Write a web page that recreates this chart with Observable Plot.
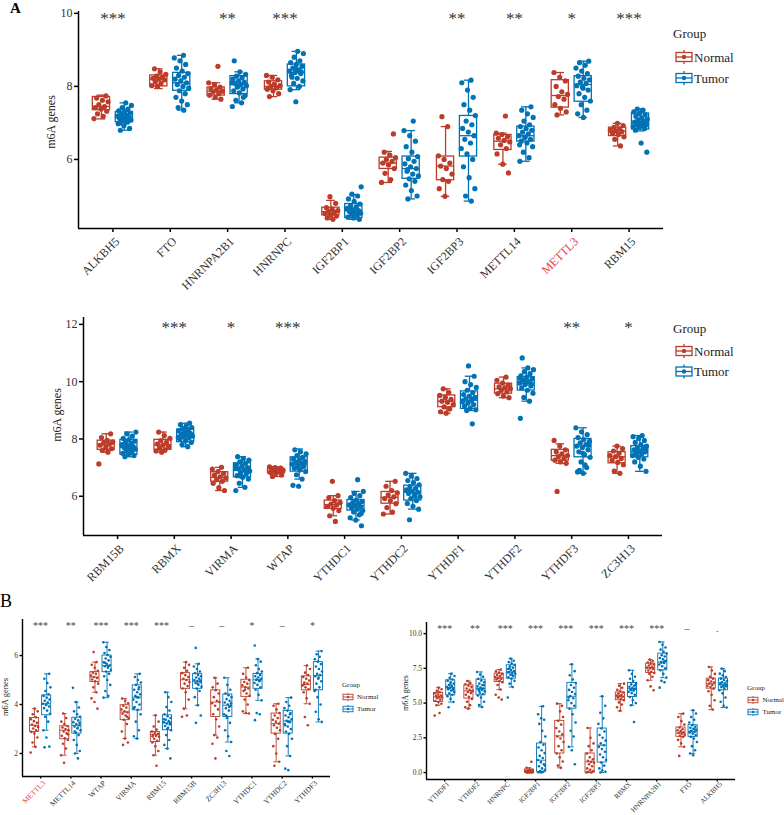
<!DOCTYPE html>
<html><head><meta charset="utf-8">
<script src="https://cdn.jsdelivr.net/npm/d3@7"></script>
<script src="https://cdn.jsdelivr.net/npm/@observablehq/plot@0.6"></script>
<style>
body{margin:0;background:#fff;}
#fig{position:relative;width:784px;height:815px;font-family:"Liberation Serif","Times New Roman",serif;overflow:hidden;background:#fff;}
.pn{position:absolute;}
.lab{position:absolute;white-space:nowrap;color:#333;line-height:1;}
.ylab{position:absolute;white-space:nowrap;color:#222;transform:translate(-50%,-50%) rotate(-90deg);}
</style></head><body><div id="fig"></div>
<script>
const RED = "#BC3C29", BLUE = "#0072B5";
const groups = ["Normal", "Tumor"];

// ---------- Panel A, top ----------
const genesA1 = ["ALKBH5","FTO","HNRNPA2B1","HNRNPC","IGF2BP1","IGF2BP2","IGF2BP3","METTL14","METTL3","RBM15"];
const signifA1 = ["***","","**","***","","","**","**","*","***"];
// box stats: [lower whisker, Q1, median, Q3, upper whisker]
const boxNormalA1 = [[7.11,7.35,7.45,7.71,7.76],[7.94,8.0,8.2,8.3,8.48],[7.65,7.75,7.87,7.97,8.1],[7.72,7.91,8.0,8.14,8.3],[4.36,4.47,4.57,4.68,4.88],[5.37,5.74,5.9,6.05,6.22],[4.99,5.43,5.82,6.08,6.9],[5.87,6.26,6.5,6.67,6.72],[7.22,7.42,7.75,8.17,8.38],[6.37,6.64,6.78,6.87,6.99]];
const boxTumorA1 = [[6.8,7.02,7.17,7.3,7.55],[7.35,7.88,8.1,8.37,8.85],[7.55,7.79,8.05,8.28,8.4],[7.91,8.0,8.38,8.6,8.96],[4.36,4.4,4.6,4.78,5.04],[4.92,5.47,5.75,6.08,6.79],[4.86,6.08,6.65,7.19,8.17],[5.95,6.49,6.65,6.9,7.44],[7.15,7.58,8.05,8.28,8.69],[6.78,6.82,7.02,7.26,7.38]];
const pointsNormalA1 = [
 [7.12,7.18,7.25,7.32,7.38,7.42,7.45,7.5,7.58,7.62,7.68,7.74],
 [8.0,8.02,8.08,8.12,8.18,8.2,8.22,8.25,8.28,8.33,8.4,8.48],
 [7.65,7.7,7.76,7.8,7.85,7.87,7.9,7.94,7.98,8.05,8.1,8.55],
 [7.72,7.8,7.88,7.92,7.96,8.0,8.02,8.06,8.12,8.18,8.25,8.3],
 [4.36,4.4,4.45,4.48,4.52,4.55,4.58,4.6,4.64,4.68,4.8,4.98],
 [5.37,5.45,5.62,5.75,5.85,5.9,5.95,6.0,6.05,6.12,6.2,6.7],
 [4.99,5.2,5.4,5.45,5.6,5.75,5.82,5.9,6.0,6.1,6.9,7.17],
 [5.63,5.87,6.15,6.3,6.4,6.48,6.52,6.58,6.62,6.68,6.72,7.19],
 [7.22,7.3,7.4,7.5,7.65,7.72,7.78,7.85,8.0,8.15,8.25,8.38],
 [6.37,6.55,6.62,6.68,6.72,6.76,6.78,6.8,6.84,6.88,6.93,6.99]];
const pointsTumorA1 = [
 [6.8,6.85,6.92,6.98,7.02,7.05,7.08,7.1,7.12,7.15,7.17,7.19,7.21,7.24,7.27,7.3,7.33,7.38,7.42,7.48,7.55,7.0],
 [7.35,7.42,7.5,7.6,7.7,7.8,7.88,7.95,8.0,8.05,8.1,8.15,8.2,8.25,8.3,8.35,8.42,8.5,8.6,8.7,8.78,8.85],
 [7.45,7.55,7.62,7.75,7.82,7.88,7.93,7.98,8.02,8.05,8.08,8.12,8.15,8.2,8.24,8.28,8.33,8.4,8.7,7.7,8.0,8.1],
 [7.58,7.91,8.0,8.08,8.15,8.22,8.3,8.35,8.38,8.42,8.45,8.5,8.55,8.6,8.65,8.7,8.8,8.9,8.96,8.25,8.4,8.48],
 [4.36,4.4,4.42,4.46,4.5,4.53,4.56,4.58,4.6,4.63,4.66,4.7,4.74,4.78,4.85,4.92,5.0,5.05,5.25,4.48,4.62,4.55],
 [4.92,5.0,5.15,5.3,5.4,5.47,5.55,5.6,5.68,5.75,5.8,5.88,5.95,6.02,6.08,6.2,6.35,6.5,6.65,6.79,7.05,5.72],
 [4.86,5.0,5.2,5.5,5.8,6.0,6.15,6.3,6.45,6.55,6.65,6.75,6.85,6.95,7.05,7.2,7.35,7.5,7.7,7.9,8.1,8.17],
 [5.95,6.05,6.2,6.35,6.45,6.5,6.55,6.6,6.65,6.7,6.75,6.8,6.85,6.9,6.95,7.05,7.15,7.25,7.35,7.44,6.62,6.4],
 [7.15,7.25,7.35,7.5,7.6,7.7,7.8,7.9,7.98,8.02,8.08,8.12,8.18,8.22,8.28,8.35,8.42,8.5,8.58,8.65,8.69,7.95],
 [6.2,6.45,6.8,6.85,6.88,6.9,6.93,6.96,6.98,7.0,7.02,7.05,7.08,7.1,7.14,7.18,7.22,7.26,7.3,7.35,7.38,6.95]];

// ---------- Panel A, bottom ----------
const genesA2 = ["RBM15B","RBMX","VIRMA","WTAP","YTHDC1","YTHDC2","YTHDF1","YTHDF2","YTHDF3","ZC3H13"];
const signifA2 = ["","***","*","***","","","","","**","*"];
const boxNormalA2 = [[7.54,7.62,7.82,7.94,8.18],[7.54,7.62,7.8,7.97,8.24],[6.2,6.51,6.66,6.84,7.01],[6.69,6.8,6.88,6.95,7.03],[5.32,5.56,5.71,5.85,6.02],[5.38,5.74,5.96,6.15,6.52],[8.9,9.11,9.32,9.52,9.75],[9.44,9.58,9.75,9.93,10.16],[7.15,7.24,7.42,7.62,7.83],[6.8,7.15,7.38,7.54,7.75]];
const boxTumorA2 = [[7.38,7.45,7.71,7.97,8.24],[7.73,7.89,8.12,8.33,8.55],[6.31,6.66,6.9,7.15,7.38],[6.6,6.86,7.13,7.36,7.65],[5.17,5.5,5.67,5.87,6.17],[5.55,5.85,6.14,6.37,6.8],[8.99,9.05,9.35,9.66,10.19],[9.32,9.69,9.93,10.16,10.48],[6.8,7.36,7.75,8.0,8.39],[6.87,7.36,7.55,7.75,8.12]];
const pointsNormalA2 = [
 [7.13,7.54,7.6,7.66,7.72,7.78,7.82,7.86,7.9,7.95,8.05,8.18],
 [7.54,7.58,7.62,7.68,7.74,7.78,7.82,7.88,7.94,8.02,8.12,8.24],
 [6.2,6.3,6.45,6.52,6.58,6.64,6.68,6.74,6.8,6.86,6.95,7.01],
 [6.69,6.74,6.8,6.83,6.86,6.88,6.9,6.92,6.95,6.98,7.0,7.03],
 [5.12,5.32,5.5,5.58,5.64,5.7,5.73,5.78,5.85,5.95,6.02,6.52],
 [5.38,5.45,5.6,5.74,5.85,5.92,5.98,6.05,6.12,6.2,6.35,6.52],
 [8.9,8.95,9.05,9.12,9.2,9.28,9.32,9.38,9.45,9.52,9.62,9.75],
 [9.44,9.5,9.58,9.64,9.7,9.75,9.78,9.82,9.88,9.95,10.05,10.16],
 [6.17,7.15,7.2,7.26,7.32,7.38,7.42,7.48,7.55,7.62,7.75,7.95],
 [6.8,6.88,7.1,7.18,7.25,7.32,7.38,7.42,7.5,7.58,7.66,7.75]];
const pointsTumorA2 = [
 [7.38,7.42,7.46,7.5,7.55,7.6,7.64,7.68,7.7,7.73,7.76,7.8,7.84,7.88,7.92,7.97,8.02,8.1,8.18,8.24,7.62,7.75],
 [7.73,7.8,7.88,7.94,8.0,8.04,8.08,8.1,8.13,8.16,8.2,8.24,8.28,8.32,8.36,8.4,8.45,8.5,8.55,8.12,8.06,8.22],
 [6.2,6.31,6.45,6.6,6.66,6.72,6.78,6.84,6.88,6.92,6.96,7.0,7.05,7.1,7.15,7.2,7.26,7.32,7.38,6.9,6.7,6.98],
 [6.35,6.38,6.6,6.75,6.86,6.92,6.98,7.03,7.08,7.12,7.15,7.18,7.22,7.26,7.3,7.36,7.42,7.48,7.55,7.62,7.1,7.0],
 [4.97,5.17,5.25,5.35,5.45,5.5,5.55,5.6,5.64,5.67,5.7,5.74,5.78,5.82,5.87,5.95,6.02,6.1,6.17,6.58,5.62,5.4],
 [5.18,5.55,5.65,5.75,5.85,5.92,5.98,6.04,6.1,6.14,6.18,6.22,6.28,6.34,6.4,6.48,6.55,6.62,6.7,6.8,6.0,6.2],
 [8.53,8.99,9.02,9.08,9.15,9.2,9.25,9.3,9.35,9.4,9.45,9.5,9.55,9.62,9.7,9.8,9.9,10.0,10.19,10.55,9.33,9.38],
 [8.72,9.32,9.45,9.6,9.7,9.78,9.85,9.9,9.95,10.0,10.05,10.1,10.15,10.2,10.28,10.35,10.42,10.48,10.83,9.92,9.98,10.12],
 [6.8,6.85,7.0,7.2,7.36,7.45,7.55,7.62,7.7,7.75,7.8,7.86,7.92,7.98,8.05,8.15,8.25,8.39,7.1,6.9,7.78,7.5],
 [6.87,7.05,7.2,7.3,7.36,7.42,7.48,7.52,7.55,7.58,7.62,7.66,7.7,7.75,7.8,7.88,7.95,8.02,8.08,8.12,7.45,7.6]];

// ---------- Panel B, left ----------
const genesB1 = ["METTL3","METTL14","WTAP","VIRMA","RBM15","RBM15B","ZC3H13","YTHDC1","YTHDC2","YTHDF3"];
const signifB1 = ["***","**","***","***","***","–","–","*","–","*"];
const boxNormalB1 = [[2.27,2.88,3.15,3.45,3.83],[1.93,2.58,2.95,3.11,3.63],[4.5,4.92,5.12,5.32,5.73],[2.61,3.36,3.69,3.97,4.24],[1.93,2.47,2.77,2.88,3.56],[3.83,4.64,5.01,5.28,5.73],[2.75,3.49,4.1,4.58,5.09],[3.63,4.31,4.71,5.01,5.5],[1.66,2.81,3.22,3.63,4.03],[4.03,4.58,4.82,5.15,5.59]];
const boxTumorB1 = [[2.95,3.56,4.03,4.37,5.25],[2.0,2.81,3.15,3.46,4.1],[4.28,5.32,5.59,6.0,6.54],[2.61,3.76,4.3,4.78,5.25],[2.2,2.95,3.25,3.56,4.5],[3.97,4.64,4.95,5.25,5.66],[2.47,3.49,3.97,4.41,5.09],[4.17,4.64,5.01,5.25,5.86],[1.9,2.81,3.33,3.74,4.28],[3.29,4.58,5.19,5.73,6.18]];
const pointsNormalB1 = [
 [2.04,2.27,2.45,2.65,2.82,2.88,2.95,3.02,3.08,3.12,3.18,3.25,3.32,3.4,3.48,3.6,3.72,3.83],
 [1.62,1.93,2.2,2.4,2.55,2.62,2.72,2.82,2.9,2.95,3.0,3.06,3.12,3.2,3.3,3.45,3.63,2.78],
 [3.83,4.1,4.25,4.5,4.7,4.85,4.95,5.02,5.08,5.12,5.18,5.25,5.3,5.38,5.5,5.62,5.73,6.14],
 [2.35,2.45,2.61,2.9,3.2,3.38,3.45,3.55,3.62,3.68,3.72,3.8,3.88,3.95,4.05,4.15,4.24,3.5],
 [1.5,1.93,2.1,2.3,2.45,2.52,2.6,2.68,2.72,2.76,2.8,2.85,2.9,2.98,3.1,3.3,3.56,2.7],
 [3.5,3.55,3.83,4.2,4.5,4.65,4.75,4.85,4.92,5.0,5.05,5.12,5.2,5.28,5.38,5.5,5.62,5.73],
 [1.8,2.4,2.65,2.75,3.1,3.4,3.6,3.8,3.95,4.05,4.15,4.3,4.45,4.58,4.7,4.85,5.09,4.1],
 [3.63,3.65,3.72,4.0,4.2,4.35,4.45,4.55,4.65,4.7,4.78,4.85,4.92,5.0,5.1,5.25,5.5,4.6],
 [1.5,1.66,2.0,2.3,2.6,2.8,2.95,3.05,3.15,3.22,3.3,3.38,3.45,3.55,3.65,3.8,3.95,4.03],
 [3.15,3.49,4.03,4.25,4.5,4.62,4.7,4.78,4.85,4.9,4.98,5.05,5.12,5.2,5.3,5.45,5.59,4.82]];
const pointsTumorB1 = [
 [2.25,2.28,2.65,2.95,3.3,3.5,3.62,3.75,3.85,3.92,3.98,4.03,4.08,4.15,4.2,4.28,4.35,4.42,4.55,4.7,4.88,5.05,5.25,4.0],
 [1.8,2.0,2.1,2.35,2.55,2.75,2.85,2.95,3.02,3.1,3.15,3.2,3.28,3.35,3.42,3.5,3.6,3.72,3.88,4.1,4.68,3.05,2.9,3.25],
 [4.28,4.35,4.55,4.8,5.0,5.15,5.25,5.35,5.42,5.5,5.56,5.6,5.65,5.72,5.8,5.88,5.95,6.02,6.1,6.22,6.35,6.54,5.55,5.7],
 [2.61,2.7,2.95,3.3,3.6,3.78,3.9,4.0,4.1,4.2,4.28,4.35,4.42,4.5,4.6,4.7,4.8,4.9,5.0,5.12,5.25,4.3,3.85,4.62],
 [1.8,2.2,2.35,2.55,2.75,2.95,3.05,3.12,3.18,3.22,3.28,3.32,3.38,3.45,3.52,3.6,3.75,3.9,4.1,4.3,4.5,3.25,3.0,3.4],
 [3.25,3.55,3.97,4.3,4.55,4.65,4.72,4.8,4.88,4.92,4.96,5.0,5.05,5.1,5.15,5.2,5.28,5.35,5.45,5.55,5.66,6.31,4.98,4.85],
 [1.9,2.1,2.47,2.7,2.95,3.25,3.45,3.6,3.75,3.85,3.95,4.0,4.08,4.15,4.22,4.3,4.38,4.45,4.6,4.8,5.09,3.9,3.55,4.05],
 [3.36,3.6,3.65,4.17,4.4,4.6,4.7,4.8,4.88,4.95,5.0,5.05,5.1,5.15,5.2,5.28,5.35,5.45,5.6,5.75,5.86,6.41,4.98,5.02],
 [1.32,1.38,1.9,2.3,2.6,2.8,2.9,3.0,3.1,3.2,3.28,3.33,3.4,3.48,3.55,3.65,3.75,3.85,3.95,4.1,4.28,3.3,3.15,3.6],
 [3.29,3.4,3.7,4.0,4.3,4.55,4.7,4.85,4.95,5.05,5.15,5.2,5.25,5.35,5.45,5.55,5.65,5.75,5.85,5.95,6.05,6.18,5.1,4.6]];

// ---------- Panel B, right ----------
const genesB2 = ["YTHDF1","YTHDF2","HNRNPC","IGF2BP1","IGF2BP2","IGF2BP3","RBMX","HNRNPA2B1","FTO","ALKBH5"];
const signifB2 = ["***","**","***","***","***","***","***","***","–","."];
const boxNormalB2 = [[4.84,5.08,5.44,5.73,6.11],[4.6,5.32,5.88,6.28,6.59],[5.97,6.52,6.81,7.12,7.41],[0,0,0.05,0.22,0.35],[0.34,1.37,2.64,3.72,4.96],[0,0,0.77,1.37,3.21],[4.44,5.2,5.49,5.76,6.4],[6.64,7.17,7.55,7.84,8.13],[1.85,2.57,2.85,3.24,4.24],[4.53,6.04,6.4,6.76,7.6]];
const boxTumorB2 = [[5.08,5.56,6.11,6.64,7.12],[4.72,5.56,6.04,6.69,7.24],[6.16,6.76,7.24,7.72,8.2],[0,0.05,0.89,2.09,4.77],[1.85,4.6,5.49,6.45,7.79],[0,0.72,1.97,3.17,5.49],[4.84,5.44,6.04,6.45,7.36],[6.83,7.36,7.96,8.56,9.4],[1.37,2.57,2.93,3.41,4.48],[4.68,5.92,6.35,6.76,7.48]];
const pointsNormalB2 = [
 [4.1,4.29,4.84,4.95,5.08,5.15,5.25,5.35,5.4,5.45,5.5,5.55,5.62,5.7,5.78,5.88,6.0,6.11],
 [4.6,4.7,4.85,5.1,5.3,5.45,5.6,5.72,5.8,5.88,5.95,6.05,6.15,6.25,6.35,6.45,6.59,5.85],
 [5.25,5.4,5.6,5.97,6.3,6.5,6.6,6.7,6.76,6.82,6.88,6.95,7.02,7.1,7.18,7.28,7.41,6.8],
 [0,0,0.01,0.02,0.02,0.03,0.04,0.05,0.05,0.06,0.08,0.1,0.12,0.15,0.18,0.22,0.35,0.77],
 [0.34,0.5,0.8,1.1,1.37,1.6,1.9,2.2,2.45,2.6,2.75,2.95,3.2,3.45,3.72,4.0,4.4,4.96,4.8],
 [0,0,0.05,0.1,0.2,0.3,0.45,0.6,0.7,0.77,0.85,0.95,1.1,1.37,1.6,1.9,2.1,2.5,3.21],
 [4.44,4.7,4.9,5.05,5.2,5.3,5.38,5.45,5.5,5.55,5.6,5.68,5.76,5.85,5.95,6.1,6.25,6.4],
 [5.92,6.2,6.64,6.9,7.1,7.17,7.25,7.35,7.45,7.5,7.55,7.62,7.7,7.78,7.84,7.92,8.02,8.13],
 [1.2,1.85,2.1,2.35,2.57,2.65,2.72,2.8,2.85,2.9,2.98,3.05,3.12,3.24,3.45,3.7,4.0,4.24],
 [4.53,4.8,5.2,5.6,5.85,6.04,6.15,6.25,6.3,6.4,6.48,6.55,6.65,6.76,6.9,7.1,7.35,7.6]];
const pointsTumorB2 = [
 [4.7,5.08,5.3,5.5,5.6,5.7,5.8,5.9,6.0,6.05,6.1,6.15,6.22,6.3,6.4,6.5,6.6,6.7,6.82,6.95,7.12,6.08,5.95,6.35],
 [4.72,4.85,5.1,5.4,5.55,5.65,5.75,5.85,5.95,6.0,6.05,6.12,6.2,6.3,6.4,6.5,6.62,6.75,6.9,7.05,7.24,6.02,5.9,6.28],
 [5.4,6.16,6.4,6.6,6.75,6.85,6.95,7.05,7.12,7.18,7.24,7.3,7.38,7.45,7.55,7.65,7.75,7.85,7.95,8.05,8.2,7.2,7.0,7.5],
 [0,0.02,0.05,0.1,0.2,0.3,0.45,0.6,0.75,0.9,1.05,1.2,1.4,1.6,1.8,2.0,2.2,2.6,3.0,3.5,3.8,3.9,4.2,4.77,0.08,0.5],
 [0.6,1.6,1.85,2.6,3.0,3.6,4.2,4.6,4.8,5.0,5.2,5.35,5.5,5.65,5.8,5.95,6.1,6.3,6.45,6.7,7.0,7.3,7.79,5.4],
 [0,0.05,0.15,0.3,0.5,0.72,0.9,1.1,1.3,1.5,1.7,1.85,1.97,2.1,2.3,2.5,2.7,2.95,3.17,3.5,3.9,4.3,4.8,5.49],
 [3.64,4.84,5.0,5.2,5.44,5.6,5.72,5.82,5.9,5.98,6.04,6.1,6.18,6.25,6.35,6.45,6.6,6.75,6.9,7.1,7.36,6.0,5.95,6.3],
 [6.11,6.5,6.6,6.83,7.1,7.36,7.5,7.65,7.78,7.88,7.96,8.05,8.15,8.25,8.35,8.45,8.56,8.7,8.85,9.0,9.2,9.4,8.0,7.9],
 [1.25,1.37,1.6,1.9,2.2,2.45,2.57,2.7,2.8,2.88,2.93,3.0,3.08,3.15,3.22,3.3,3.41,3.6,3.8,4.0,4.25,4.48,2.95,3.1],
 [4.68,4.8,5.1,5.4,5.7,5.92,6.05,6.15,6.22,6.28,6.35,6.42,6.5,6.58,6.66,6.76,6.88,7.0,7.12,7.3,7.48,6.3,6.2,6.45]];

const yTicksA1 = [6, 8, 10], yTicksA2 = [6, 8, 10, 12], yTicksB1 = [2, 4, 6], yTicksB2 = [0, 2.5, 5, 7.5, 10];
const highlight = "METTL3";

function panel(cfg) {
  const n = cfg.genes.length;
  const boxes = [], pts = [];
  cfg.genes.forEach((g, i) => {
    groups.forEach((grp, gi) => {
      const off = gi === 0 ? -0.2 : 0.2;
      const b = (gi === 0 ? cfg.boxN : cfg.boxT)[i];
      boxes.push({grp, x: i + off, lo: b[0], q1: b[1], med: b[2], q3: b[3], hi: b[4]});
      const vals = (gi === 0 ? cfg.ptsN : cfg.ptsT)[i];
      vals.forEach((v, k) => {
        const u = ((k * 0.6180339 + i * 0.41 + gi * 0.23) % 1) - 0.5;
        pts.push({grp, x: i + off + u * 2 * cfg.jit, y: v});
      });
    });
  });
  const HW = 0.15, CAP = 0.075, sw = cfg.sw;
  const lfs = cfg.lfs || cfg.fs;
  const svg = Plot.plot({
    width: cfg.width, height: cfg.height,
    marginLeft: cfg.ml, marginRight: cfg.mr, marginTop: cfg.mt, marginBottom: cfg.mb,
    x: {domain: [-0.6, n - 0.4], label: null, axis: null},
    y: {domain: cfg.yDomain, label: null, axis: null},
    color: {domain: groups, range: [RED, BLUE]},
    style: {fontFamily: "'Liberation Serif', serif", fontSize: cfg.fs + "px", color: "#000", background: "transparent", overflow: "visible"},
    marks: [
      Plot.ruleX(boxes, {x: "x", y1: "lo", y2: "q1", stroke: "grp", strokeWidth: sw}),
      Plot.ruleX(boxes, {x: "x", y1: "q3", y2: "hi", stroke: "grp", strokeWidth: sw}),
      Plot.ruleY(boxes, {y: "lo", x1: d => d.x - CAP, x2: d => d.x + CAP, stroke: "grp", strokeWidth: sw}),
      Plot.ruleY(boxes, {y: "hi", x1: d => d.x - CAP, x2: d => d.x + CAP, stroke: "grp", strokeWidth: sw}),
      Plot.rect(boxes, {x1: d => d.x - HW, x2: d => d.x + HW, y1: "q1", y2: "q3", fill: "white", stroke: "grp", strokeWidth: sw}),
      Plot.ruleY(boxes, {y: "med", x1: d => d.x - HW, x2: d => d.x + HW, stroke: "grp", strokeWidth: sw}),
      Plot.dot(pts, {x: "x", y: "y", r: cfg.r, fill: "grp", stroke: null}),
      Plot.text(cfg.sig, {x: (d, i) => i, y: () => cfg.starY, text: d => d, fontSize: cfg.starFs, fill: cfg.starFill, dy: cfg.starDy}),
      Plot.text(cfg.genes, {x: (d, i) => i, filter: d => !(cfg.hl && d === highlight), frameAnchor: "bottom", text: d => d, rotate: -45, textAnchor: "end", lineAnchor: "middle", dx: cfg.ldx, dy: cfg.ldy, fill: "#333", fontSize: lfs}),
      Plot.text(cfg.genes, {x: (d, i) => i, filter: d => cfg.hl && d === highlight, frameAnchor: "bottom", text: d => d, rotate: -45, textAnchor: "end", lineAnchor: "middle", dx: cfg.ldx, dy: cfg.ldy, fill: "#E0453A", fontSize: lfs}),
      Plot.axisX(d3.range(n), {tickSize: cfg.ts, tickFormat: () => "", strokeWidth: cfg.aw, label: null}),
      Plot.axisY(cfg.yTicks, {tickSize: cfg.ts, tickPadding: cfg.tp, tickFormat: cfg.yFmt, fill: "#333", strokeWidth: cfg.aw, label: null}),
      Plot.ruleX([-0.6], {strokeWidth: cfg.aw, stroke: "#000"}),
      Plot.ruleY([cfg.yDomain[0]], {strokeWidth: cfg.aw, stroke: "#000"})
    ]
  });
  const div = document.createElement("div");
  div.className = "pn";
  div.style.left = cfg.left + "px";
  div.style.top = cfg.top + "px";
  div.appendChild(svg);
  document.getElementById("fig").appendChild(div);
}

const fmtInt = d3.format("d"), fmt1 = d3.format(".1f");

panel({genes: genesA1, sig: signifA1, boxN: boxNormalA1, boxT: boxTumorA1, ptsN: pointsNormalA1, ptsT: pointsTumorA1,
  left: 0, top: 0, width: 784, height: 280, ml: 78, mr: 121, mt: 11, mb: 52, yDomain: [4.11, 10.05], yTicks: yTicksA1, yFmt: fmtInt,
  fs: 12, starFs: 17, starY: 10, starDy: 5.5, starFill: "#333", r: 2.6, sw: 1.3, jit: 0.13, ts: 4, tp: 2, aw: 1.5, ldx: 4.5, ldy: 11, hl: true});
panel({genes: genesA2, sig: signifA2, boxN: boxNormalA2, boxT: boxTumorA2, ptsN: pointsNormalA2, ptsT: pointsTumorA2,
  left: 0, top: 280, width: 784, height: 310, ml: 83, mr: 122, mt: 37, mb: 55, yDomain: [4.63, 12.24], yTicks: yTicksA2, yFmt: fmtInt,
  fs: 12, starFs: 17, starY: 12, starDy: 3, starFill: "#333", r: 2.6, sw: 1.3, jit: 0.13, ts: 4, tp: 2, aw: 1.5, ldx: 4.5, ldy: 11, hl: false});
panel({genes: genesB1, sig: signifB1, boxN: boxNormalB1, boxT: boxTumorB1, ptsN: pointsNormalB1, ptsT: pointsTumorB1,
  left: 0, top: 590, width: 390, height: 225, ml: 22, mr: 60, mt: 29, mb: 39, yDomain: [1.06, 7.47], yTicks: yTicksB1, yFmt: fmtInt,
  fs: 7.5, starFs: 10, starY: 7.2, starDy: 0, starFill: "#444", r: 1.3, sw: 0.9, jit: 0.13, ts: 2.5, tp: 2, aw: 1.4, ldx: 3.5, ldy: 5.5, hl: true});
panel({genes: genesB2, sig: signifB2, boxN: boxNormalB2, boxT: boxTumorB2, ptsN: pointsNormalB2, ptsT: pointsTumorB2,
  left: 390, top: 590, width: 394, height: 225, ml: 36, mr: 49, mt: 32, mb: 36, yDomain: [-0.5, 10.8], yTicks: yTicksB2, yFmt: fmt1,
  fs: 7.5, lfs: 7, starFs: 10, starY: 10.4, starDy: 1.2, starFill: "#444", r: 1.3, sw: 0.9, jit: 0.13, ts: 2.5, tp: 2, aw: 1.4, ldx: 3.5, ldy: 3.5, hl: false});

// axis titles and panel letters
const fig = document.getElementById("fig");
function addText(cls, txt, x, y, fs, extra) {
  const d = document.createElement("div");
  d.className = cls; d.textContent = txt;
  d.style.left = x + "px"; d.style.top = y + "px"; d.style.fontSize = fs + "px";
  if (extra) Object.assign(d.style, extra);
  fig.appendChild(d);
}
addText("ylab", "m6A genes", 51, 122, 12);
addText("ylab", "m6A genes", 57, 415, 12);
addText("ylab", "m6A genes", 5, 697, 8.5);
addText("ylab", "m6A genes", 405, 693, 8);
addText("lab", "A", 10, 1, 15, {fontWeight: "bold", color: "#000"});
addText("lab", "B", 0, 592, 18, {color: "#000"});

// legends
const lsvg = d3.select(fig).append("svg").attr("width", 784).attr("height", 815)
  .style("position", "absolute").style("left", 0).style("top", 0).style("pointer-events", "none")
  .style("font-family", "'Liberation Serif', serif");
function legend(o) {
  lsvg.append("text").attr("x", o.x).attr("y", o.titleY).attr("font-size", o.fs).attr("fill", "#222").text("Group");
  groups.forEach((g, i) => {
    const c = i === 0 ? RED : BLUE, cy = o.rows[i], cx = o.kx + o.kw / 2;
    const gg = lsvg.append("g").attr("stroke", c).attr("stroke-width", o.sw).attr("fill", "none");
    gg.append("line").attr("x1", cx).attr("x2", cx).attr("y1", cy - o.wh).attr("y2", cy + o.wh);
    gg.append("rect").attr("x", o.kx).attr("y", cy - o.bh / 2).attr("width", o.kw).attr("height", o.bh).attr("fill", "white");
    gg.append("line").attr("x1", o.kx).attr("x2", o.kx + o.kw).attr("y1", cy).attr("y2", cy);
    lsvg.append("circle").attr("cx", cx).attr("cy", cy).attr("r", o.r).attr("fill", c);
    lsvg.append("text").attr("x", o.tx).attr("y", cy).attr("dy", "0.35em").attr("font-size", o.fs).attr("fill", "#222").text(g);
  });
}
legend({x: 673, titleY: 38, rows: [57, 78], kx: 676, kw: 16, bh: 9, wh: 7, sw: 1.3, r: 2.2, tx: 694, fs: 13});
legend({x: 673, titleY: 333, rows: [351, 371.5], kx: 676, kw: 16, bh: 9, wh: 7, sw: 1.3, r: 2.2, tx: 694, fs: 13});
legend({x: 342, titleY: 686.5, rows: [697, 709], kx: 343, kw: 10, bh: 5.5, wh: 4, sw: 0.9, r: 1.2, tx: 357, fs: 7});
legend({x: 747, titleY: 689.5, rows: [700, 712], kx: 748, kw: 10, bh: 5.5, wh: 4, sw: 0.9, r: 1.2, tx: 762.5, fs: 7});
</script></body></html>
